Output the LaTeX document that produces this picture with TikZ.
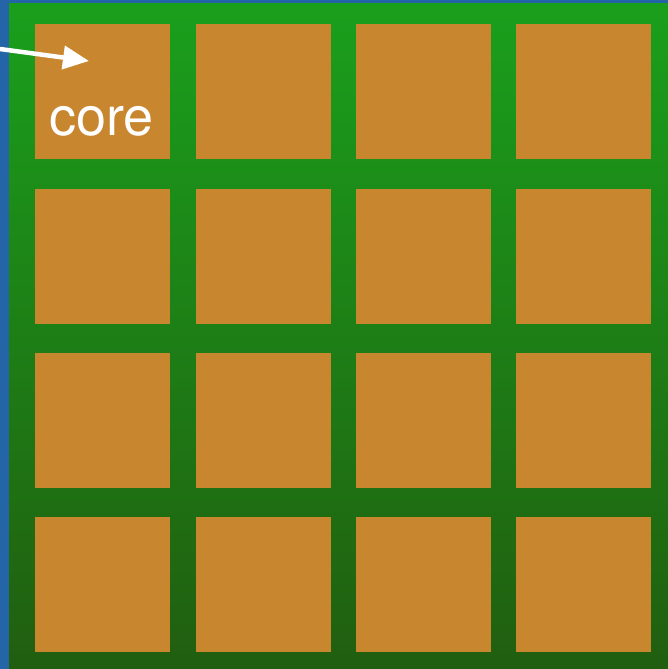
\documentclass[tikz,border=0pt]{standalone}
\usepackage{fontspec}
\setmainfont{TeX Gyre Heros}
\usetikzlibrary{arrows.meta}
\definecolor{bgblue}{HTML}{2465A8}
\definecolor{gtop}{HTML}{1A9F1C}
\definecolor{gbot}{HTML}{215E10}
\definecolor{coreor}{HTML}{C8862F}
\tikzset{
  corebox/.style={fill=coreor, draw=none, minimum width=135pt, minimum height=135pt, inner sep=0pt, anchor=north west},
  pointer/.style={draw=white, line width=4.5pt, -{Triangle[length=26pt,width=23pt]}},
  label text/.style={text=white, font=\fontsize{54}{54}\selectfont, inner sep=0pt, anchor=base west}
}
\begin{document}
\begin{tikzpicture}[x=1pt,y=-1pt]
\useasboundingbox (0,0) rectangle (668,669);
\fill[bgblue] (0,0) rectangle (668,669);
\shade[top color=gtop, bottom color=gbot] (9,4) rectangle (668,669);
\foreach \c/\x in {1/35,2/196,3/356,4/516}{
  \foreach \r/\y in {1/24,2/189,3/353,4/517}{
    \node[corebox] (c\r\c) at (\x,\y) {};
  }
}
\coordinate (tail) at (0,49);
\coordinate (tip) at (89,61);
\draw[pointer] (tail) -- (tip);
\node[label text] (lbl) at (49,135) {core};
\end{tikzpicture}
\end{document}
